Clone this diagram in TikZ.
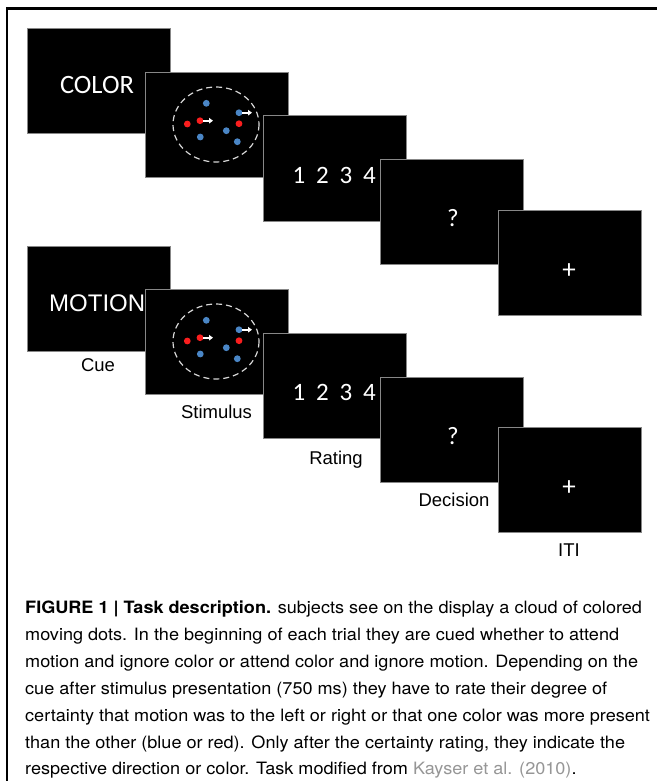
\documentclass[tikz,border=0pt]{standalone}
\usepackage{fontspec}
\setmainfont{Liberation Sans}
\newfontfamily\calib{Carlito}
\newfontfamily\capfont{TeX Gyre Heros}
\usetikzlibrary{arrows.meta}
\definecolor{dotblue}{RGB}{74,134,198}
\definecolor{dotred}{RGB}{250,30,30}
\definecolor{panelgray}{RGB}{135,135,135}
\definecolor{citegray}{RGB}{150,150,150}
\definecolor{dashgray}{RGB}{215,215,215}
\newcommand\capsx{1.064}
\newcommand\capline[1]{\scalebox{\capsx}[1]{#1}}
\newcommand\stimdots{%
  \draw[dashcircle] (71,52.5) ellipse [x radius=43, y radius=37.5];
  \fill[dotblue] (61.3,31.3) circle [radius=3.4];
  \fill[dotblue] (94,40.7) circle [radius=3.4];
  \fill[dotred] (42.3,52) circle [radius=3.4];
  \fill[dotred] (55,48.7) circle [radius=3.4];
  \fill[dotblue] (55.3,65) circle [radius=3.4];
  \fill[dotblue] (81.3,58.7) circle [radius=3.4];
  \fill[dotred] (94,51.7) circle [radius=3.4];
  \fill[dotblue] (92.3,69.7) circle [radius=3.4];
  \draw[motarrow] (58.3,48.7) -- (68,48.7);
  \draw[motarrow] (97.3,40.7) -- (107,40.7);
}
\begin{document}
\begin{tikzpicture}[x=1pt,y=-1pt,
  panel/.style={fill=black,draw=panelgray,line width=0.8pt,minimum width=143pt,minimum height=105pt,inner sep=0pt,anchor=north west},
  colorword/.style={font=\calib\fontsize{26.5}{30}\selectfont,text=white,anchor=base,inner sep=0pt},
  motionword/.style={font=\fontsize{24}{28}\selectfont,text=white,anchor=base west,inner sep=0pt},
  digit/.style={font=\calib\fontsize{25}{30}\selectfont,text=white,anchor=base,inner sep=0pt},
  plussign/.style={font=\calib\fontsize{27}{30}\selectfont,text=white,anchor=center,inner sep=0pt},
  steplabel/.style={font=\fontsize{18.5}{22}\selectfont,anchor=base,inner sep=0pt},
  capline/.style={font=\capfont\fontsize{17}{20}\selectfont,anchor=base west,inner sep=0pt},
  dashcircle/.style={draw=dashgray,line width=1.2pt,dash pattern=on 6pt off 4pt},
  motarrow/.style={draw=white,line width=1.8pt,-{Triangle[length=4pt,width=5.5pt]}}
]
\useasboundingbox (0,0) rectangle (657,781);
\fill[white] (0,0) rectangle (657,781);
\draw[line width=2.6pt] (7,781) -- (7,8.6) -- (657,8.6);

% ---- top row (COLOR)
\node[panel] (tcue) at (27,28) {};
\node[colorword] (tcueword) at (97,93.3) {COLOR};
\node[panel] (tstim) at (145,72) {};
\begin{scope}[shift={(145,72)}]\stimdots\end{scope}
\node[panel] (trate) at (262.5,115.5) {};
\node[digit] (tr1) at (299,183.7) {1};
\node[digit] (tr2) at (322.5,183.7) {2};
\node[digit] (tr3) at (346,183.7) {3};
\node[digit] (tr4) at (369.5,183.7) {4};
\node[panel] (tdec) at (380,159) {};
\node[digit] (tq) at (453,226) {?};
\node[panel] (titi) at (498,209.5) {};
\node[plussign] (tplus) at (569,271) {+};

% ---- bottom row (MOTION)
\node[panel] (bcue) at (27,245.5) {};
\node[motionword] (bcueword) at (49,311) {MOTION};
\node[panel] (bstim) at (145,289) {};
\begin{scope}[shift={(145,289)}]\stimdots\end{scope}
\node[panel] (brate) at (262.5,332.5) {};
\node[digit] (br1) at (299,400.7) {1};
\node[digit] (br2) at (322.5,400.7) {2};
\node[digit] (br3) at (346,400.7) {3};
\node[digit] (br4) at (369.5,400.7) {4};
\node[panel] (bdec) at (380,376.7) {};
\node[digit] (bq) at (453,444) {?};
\node[panel] (biti) at (498,426.7) {};
\node[plussign] (bplus) at (569,488) {+};

% ---- step labels
\node[steplabel] (lcue) at (98,371) {Cue};
\node[steplabel] (lstim) at (216.5,418) {Stimulus};
\node[steplabel] (lrate) at (336,464.3) {Rating};
\node[steplabel] (ldec) at (454,506.7) {Decision};
\node[steplabel] (liti) at (569,556.7) {ITI};

% ---- caption
\node[capline] (c1) at (25,613) {\capline{\textbf{FIGURE 1 | Task description.} subjects see on the display a cloud of colored}};
\node[capline] (c2) at (25,640) {\capline{moving dots. In the beginning of each trial they are cued whether to attend}};
\node[capline] (c3) at (25,667) {\capline{motion and ignore color or attend color and ignore motion. Depending on the}};
\node[capline] (c4) at (25,694) {\capline{cue after stimulus presentation (750 ms) they have to rate their degree of}};
\node[capline] (c5) at (25,721) {\capline{certainty that motion was to the left or right or that one color was more present}};
\node[capline] (c6) at (25,748) {\capline{than the other (blue or red). Only after the certainty rating, they indicate the}};
\node[capline] (c7) at (25,774) {\capline{respective direction or color. Task modified from {\color{citegray}Kayser et al. (2010)}.}};
\end{tikzpicture}
\end{document}
